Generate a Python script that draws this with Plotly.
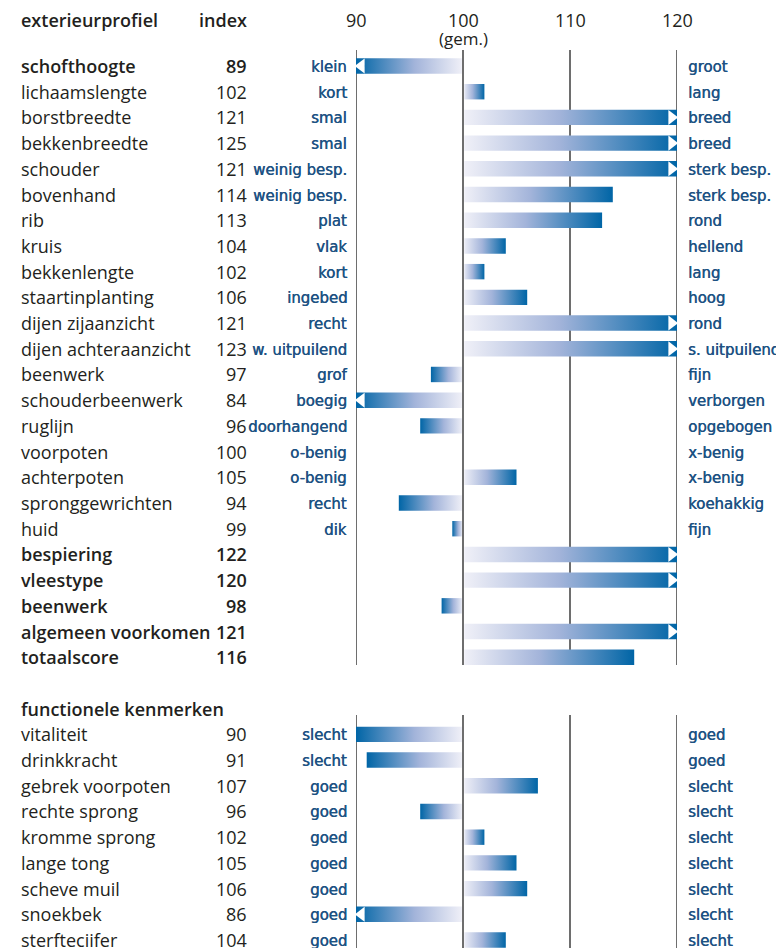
import plotly.graph_objects as go

# ---------------- data ----------------
ext_traits = ["schofthoogte", "lichaamslengte", "borstbreedte", "bekkenbreedte", "schouder",
              "bovenhand", "rib", "kruis", "bekkenlengte", "staartinplanting",
              "dijen zijaanzicht", "dijen achteraanzicht", "beenwerk", "schouderbeenwerk",
              "ruglijn", "voorpoten", "achterpoten", "spronggewrichten", "huid",
              "bespiering", "vleestype", "beenwerk", "algemeen voorkomen", "totaalscore"]
ext_values = [89, 102, 121, 125, 121, 114, 113, 104, 102, 106, 121, 123, 97, 84,
              96, 100, 105, 94, 99, 122, 120, 98, 121, 116]
ext_bold = [True] + [False] * 18 + [True] * 5
ext_left = ["klein", "kort", "smal", "smal", "weinig besp.", "weinig besp.", "plat", "vlak",
            "kort", "ingebed", "recht", "w. uitpuilend", "grof", "boegig", "doorhangend",
            "o-benig", "o-benig", "recht", "dik", "", "", "", "", ""]
ext_right = ["groot", "lang", "breed", "breed", "sterk besp.", "sterk besp.", "rond", "hellend",
             "lang", "hoog", "rond", "s. uitpuilend", "fijn", "verborgen", "opgebogen",
             "x-benig", "x-benig", "koehakkig", "fijn", "", "", "", "", ""]

fun_traits = ["vitaliteit", "drinkkracht", "gebrek voorpoten", "rechte sprong", "kromme sprong",
              "lange tong", "scheve muil", "snoekbek", "sterfteciifer"]
fun_values = [90, 91, 107, 96, 102, 105, 106, 86, 104]
fun_left = ["slecht", "slecht", "goed", "goed", "goed", "goed", "goed", "goed", "goed"]
fun_right = ["goed", "goed", "slecht", "slecht", "slecht", "slecht", "slecht", "slecht", "slecht"]

tick_vals = [90, 100, 110, 120]
tick_text = ["90", "100", "110", "120"]
header_left = "exterieurprofiel"
header_index = "index"
header_fun = "functionele kenmerken"
avg_label = "(gem.)"

# ---------------- layout constants ----------------
W, H = 776, 948
X0, X1 = 356, 677          # pixel positions of 90 and 120
ROW0_PX, ROW_PX = 66, 25.706
XMIN, XMAX = 90, 120

def px2paper(px):
    return (px - X0) / (X1 - X0)

TEXT_COL = "#231f20"
DESC_COL = "#1d5283"
MAIN_FONT = "Open Sans, Noto Sans, sans-serif"
DESC_FONT = "DejaVu Sans Condensed, sans-serif"
GRAD = [[0, "#f1f1f8"], [0.45, "#a3b4da"], [1, "#0065a6"]]
MAIN_SIZE = 18
DESC_SIZE = 16.6

rows = []
for i, (t, v, b, l, r) in enumerate(zip(ext_traits, ext_values, ext_bold, ext_left, ext_right)):
    rows.append(dict(row=i, name=t, val=v, bold=b, left=l, right=r))
fun_start = len(ext_traits) + 2
for j, (t, v, l, r) in enumerate(zip(fun_traits, fun_values, fun_left, fun_right)):
    rows.append(dict(row=fun_start + j, name=t, val=v, bold=False, left=l, right=r))

fig = go.Figure()
annotations = []
half = 0.3

def main_font(bold):
    return dict(family=MAIN_FONT, size=MAIN_SIZE, color=TEXT_COL, weight=550 if bold else 400)

def desc_font():
    return dict(family=DESC_FONT, size=DESC_SIZE, color=DESC_COL, weight="normal",
                shadow="0.45px 0px 0px %s" % DESC_COL)

for rw in rows:
    y = rw["row"]
    v = rw["val"]
    vc = min(max(v, XMIN), XMAX)
    if vc != 100:
        x_start = 100.12 if vc > 100 else 99.9
        fig.add_trace(go.Scatter(
            x=[x_start, vc, vc, x_start, x_start],
            y=[y - half, y - half, y + half, y + half, y - half],
            mode="lines", line=dict(width=0), fill="toself",
            fillgradient=dict(type="horizontal", start=100, stop=vc, colorscale=GRAD),
            hoverinfo="skip", showlegend=False))
    if v >= XMAX or v < XMIN:
        ax = XMAX - 0.5 if v >= XMAX else XMIN + 0.5
        fig.add_trace(go.Scatter(
            x=[ax], y=[y], mode="markers",
            marker=dict(symbol="triangle-right" if v >= XMAX else "triangle-left",
                        color="white", size=13, line=dict(width=0)),
            hoverinfo="skip", showlegend=False))
    annotations.append(dict(x=px2paper(19), y=y, xref="paper", yref="y", xanchor="left",
                            yanchor="middle", text=rw["name"], showarrow=False,
                            font=main_font(rw["bold"])))
    annotations.append(dict(x=px2paper(249), y=y, xref="paper", yref="y", xanchor="right",
                            yanchor="middle", text=str(v), showarrow=False,
                            font=main_font(rw["bold"])))
    if rw["left"]:
        annotations.append(dict(x=px2paper(348.5), y=y + 0.02, xref="paper", yref="y",
                                xanchor="right", yanchor="middle", text=rw["left"],
                                showarrow=False, font=desc_font()))
    if rw["right"]:
        annotations.append(dict(x=px2paper(686), y=y + 0.02, xref="paper", yref="y",
                                xanchor="left", yanchor="middle", text=rw["right"],
                                showarrow=False, font=desc_font()))

# headers
hdr_row = (20 - ROW0_PX) / ROW_PX
annotations.append(dict(x=px2paper(19), y=hdr_row, xref="paper", yref="y", xanchor="left",
                        yanchor="middle", text=header_left, showarrow=False, font=main_font(True)))
annotations.append(dict(x=px2paper(249), y=hdr_row, xref="paper", yref="y", xanchor="right",
                        yanchor="middle", text=header_index, showarrow=False, font=main_font(True)))
annotations.append(dict(x=px2paper(19), y=fun_start - 1, xref="paper", yref="y", xanchor="left",
                        yanchor="middle", text=header_fun, showarrow=False, font=main_font(True)))
for tv, tt in zip(tick_vals, tick_text):
    annotations.append(dict(x=tv, y=hdr_row, xref="x", yref="y", xanchor="center",
                            yanchor="middle", text=tt, showarrow=False, font=main_font(False)))
annotations.append(dict(x=100, y=(38 - ROW0_PX) / ROW_PX, xref="x", yref="y", xanchor="center",
                        yanchor="middle", text=avg_label, showarrow=False,
                        font=dict(family=MAIN_FONT, size=17, color=TEXT_COL)))

# vertical reference lines (two segments)
shapes = []
seg1 = ((50 - ROW0_PX) / ROW_PX, (665 - ROW0_PX) / ROW_PX)
seg2 = ((715 - ROW0_PX) / ROW_PX, (950 - ROW0_PX) / ROW_PX)
for tv in tick_vals:
    for a, b in (seg1, seg2):
        shapes.append(dict(type="line", xref="x", yref="y", x0=tv, x1=tv, y0=a, y1=b,
                           line=dict(color="#4a4a4a", width=1.6), layer="below"))

y_top = -ROW0_PX / ROW_PX
y_bot = (H - ROW0_PX) / ROW_PX

fig.update_layout(
    width=W, height=H,
    margin=dict(l=X0, r=W - X1, t=0, b=0, pad=0),
    paper_bgcolor="white", plot_bgcolor="white",
    xaxis=dict(range=[XMIN, XMAX], showgrid=False, zeroline=False, showticklabels=False,
               ticks="", showline=False, fixedrange=True),
    yaxis=dict(range=[y_bot, y_top], showgrid=False, zeroline=False, showticklabels=False,
               ticks="", showline=False, fixedrange=True),
    annotations=annotations, shapes=shapes, showlegend=False,
)

fig.write_html("out.html", config={"displayModeBar": False},
               post_script="document.body.style.margin='0';document.body.style.overflow='hidden';")
